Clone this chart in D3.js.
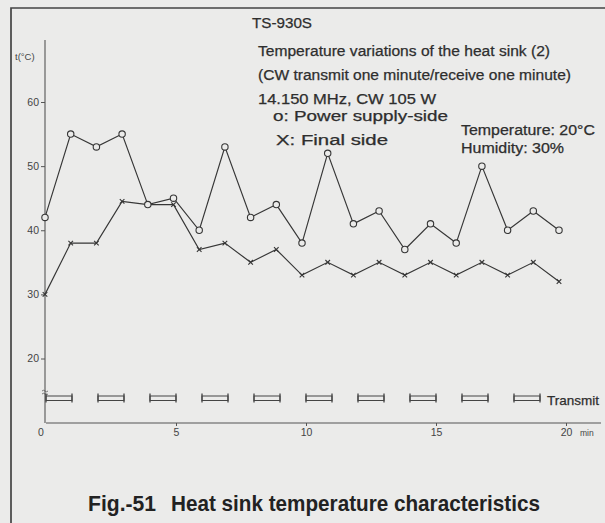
<!DOCTYPE html>
<html>
<head>
<meta charset="utf-8">
<script src="https://cdn.jsdelivr.net/npm/d3@7/dist/d3.min.js"></script>
<style>
  html, body { margin: 0; padding: 0; background: #ebebea; }
  svg { display: block; }
  text { font-family: "Liberation Sans", Arial, Helvetica, sans-serif; fill: #2e2e2e; }
</style>
</head>
<body>
<svg id="chart" width="605" height="523"></svg>
<script>
// Elapsed time (minutes) and heat-sink temperatures (°C)
const minutes = [0,1,2,3,4,5,6,7,8,9,10,11,12,13,14,15,16,17,18,19,20];
const powerSide = [42,55,53,55,44,45,40,53,42,44,38,52,41,43,37,41,38,50,40,43,40];
const finalSide = [30,38,38,44.5,44,44,37,38,35,37,33,35,33,35,33,35,33,35,33,35,32];

// Transmit periods: start minute of each one-minute transmission
const transmitStarts = [0,2,4,6,8,10,12,14,16,18];
const transmitLength = 1;

const yTicks = [20,30,40,50,60];
const xTicks = [0,5,10,15,20];

const ink = "#363636";
const svg = d3.select("#chart");

// Outer frame (top and left rules)
svg.append("path")
  .attr("d", "M11,523 L11,8 L605,8")
  .attr("fill", "none").attr("stroke", "#444").attr("stroke-width", 1.7);

// Scales
const xData = d3.scaleLinear().domain([0,20]).range([45,559]);
const xTime = d3.scaleLinear().domain([0,20]).range([46,566]);
const y = d3.scaleLinear().domain([20,60]).range([358.5,102]);

// Y axis
const yAxis = svg.append("g").attr("transform", "translate(45,0)")
  .call(d3.axisLeft(y).tickValues(yTicks).tickSize(4).tickSizeOuter(0).tickPadding(2));
yAxis.select(".domain").remove();
yAxis.selectAll(".tick line").attr("stroke", "#555");
yAxis.selectAll(".tick text")
  .style("font-size", "10.5px").style("fill", "#444").attr("font-family", "DejaVu Sans");
svg.append("line").attr("x1", 45).attr("x2", 45).attr("y1", 40).attr("y2", 423)
  .attr("stroke", "#555").attr("stroke-width", 1.1);

// Axis break mark
svg.append("path")
  .attr("d", "M42,391 q1.5,-1.5 3,0 t3,0 M42,394 q1.5,-1.5 3,0 t3,0")
  .attr("fill", "none").attr("stroke", "#555").attr("stroke-width", 0.8);

// Y unit label
svg.append("text").attr("x", 15).attr("y", 60)
  .style("font-size", "9.5px").attr("font-family", "DejaVu Sans").style("fill", "#444")
  .text("t(°C)");

// X axis (time)
const xAxisG = svg.append("g").attr("transform", "translate(0,423)")
  .call(d3.axisBottom(xTime).tickValues(xTicks).tickSize(3).tickSizeOuter(0).tickPadding(3));
xAxisG.select(".domain").remove();
xAxisG.selectAll(".tick line").attr("stroke", "#555");
xAxisG.selectAll(".tick text")
  .style("font-size", "10.5px").style("fill", "#444").attr("font-family", "DejaVu Sans");
xAxisG.selectAll(".tick").filter(d => d === 0).select("line").remove();
xAxisG.selectAll(".tick").filter(d => d === 0).attr("transform", `translate(${xTime(0) - 5},0)`);
svg.append("line").attr("x1", xTime(0)).attr("x2", 601).attr("y1", 423).attr("y2", 423)
  .attr("stroke", "#555").attr("stroke-width", 1.1);
svg.append("text").attr("x", xTime(20) + 14).attr("y", 436)
  .style("font-size", "8.5px").attr("font-family", "DejaVu Sans").style("fill", "#444")
  .text("min");

// Transmit bars
const bars = svg.append("g").selectAll("g").data(transmitStarts).join("g");
bars.append("rect")
  .attr("x", d => xTime(d)).attr("y", 396)
  .attr("width", d => xTime(d + transmitLength) - xTime(d)).attr("height", 4.5)
  .attr("fill", "none").attr("stroke", "#444").attr("stroke-width", 1);
bars.append("path")
  .attr("d", d => `M${xTime(d)},393.5 V402.5 M${xTime(d + transmitLength)},393.5 V402.5`)
  .attr("stroke", "#444").attr("stroke-width", 1.3);
svg.append("text").attr("x", 547).attr("y", 405)
  .style("font-size", "13.5px").style("stroke", "#2e2e2e").style("stroke-width", 0.25)
  .text("Transmit");

// Series lines
const line = d3.line().x((d, i) => xData(minutes[i])).y(d => y(d));
svg.append("path").datum(finalSide).attr("d", line)
  .attr("fill", "none").attr("stroke", ink).attr("stroke-width", 1.15);
svg.append("path").datum(powerSide).attr("d", line)
  .attr("fill", "none").attr("stroke", ink).attr("stroke-width", 1.15);

// Final-side markers (x)
svg.append("g").selectAll("path").data(finalSide).join("path")
  .attr("d", (d, i) => {
    const cx = xData(minutes[i]), cy = y(d), s = 2.3;
    return `M${cx - s},${cy - s} L${cx + s},${cy + s} M${cx - s},${cy + s} L${cx + s},${cy - s}`;
  })
  .attr("stroke", ink).attr("stroke-width", 1.1);

// Power-supply-side markers (o)
svg.append("g").selectAll("circle").data(powerSide).join("circle")
  .attr("cx", (d, i) => xData(minutes[i])).attr("cy", d => y(d)).attr("r", 3.2)
  .attr("fill", "#ebebea").attr("stroke", ink).attr("stroke-width", 1.1);

// Title block and conditions
const notes = [
  { t: "TS-930S", x: 252, y: 28, s: 14.5, w: 60 },
  { t: "Temperature variations of the heat sink (2)", x: 258, y: 56, s: 14, w: 292 },
  { t: "(CW transmit one minute/receive one minute)", x: 258, y: 80, s: 14, w: 313 },
  { t: "14.150 MHz, CW 105 W", x: 258, y: 104, s: 14.5, w: 178 },
  { t: "o: Power supply-side", x: 273, y: 121, s: 14, w: 175 },
  { t: "X: Final side", x: 276, y: 145, s: 14, w: 112 },
  { t: "Temperature: 20°C", x: 461, y: 135, s: 14, w: 134 },
  { t: "Humidity: 30%", x: 461, y: 153, s: 14, w: 103 }
];
svg.append("g").selectAll("text").data(notes).join("text")
  .attr("x", d => d.x).attr("y", d => d.y)
  .style("font-size", d => d.s + "px")
  .style("stroke", "#2e2e2e").style("stroke-width", 0.25)
  .attr("textLength", d => d.w).attr("lengthAdjust", "spacingAndGlyphs")
  .text(d => d.t);

// Caption: figure number and title with a wide gap between them
const caption = [
  { t: "Fig.-51", x: 88, w: 68 },
  { t: "Heat sink temperature characteristics", x: 171, w: 369 }
];
svg.append("g").selectAll("text").data(caption).join("text")
  .attr("x", d => d.x).attr("y", 511)
  .style("font-size", "22.5px").style("font-weight", "bold").style("fill", "#222")
  .attr("textLength", d => d.w).attr("lengthAdjust", "spacingAndGlyphs")
  .text(d => d.t);
</script>
</body>
</html>
